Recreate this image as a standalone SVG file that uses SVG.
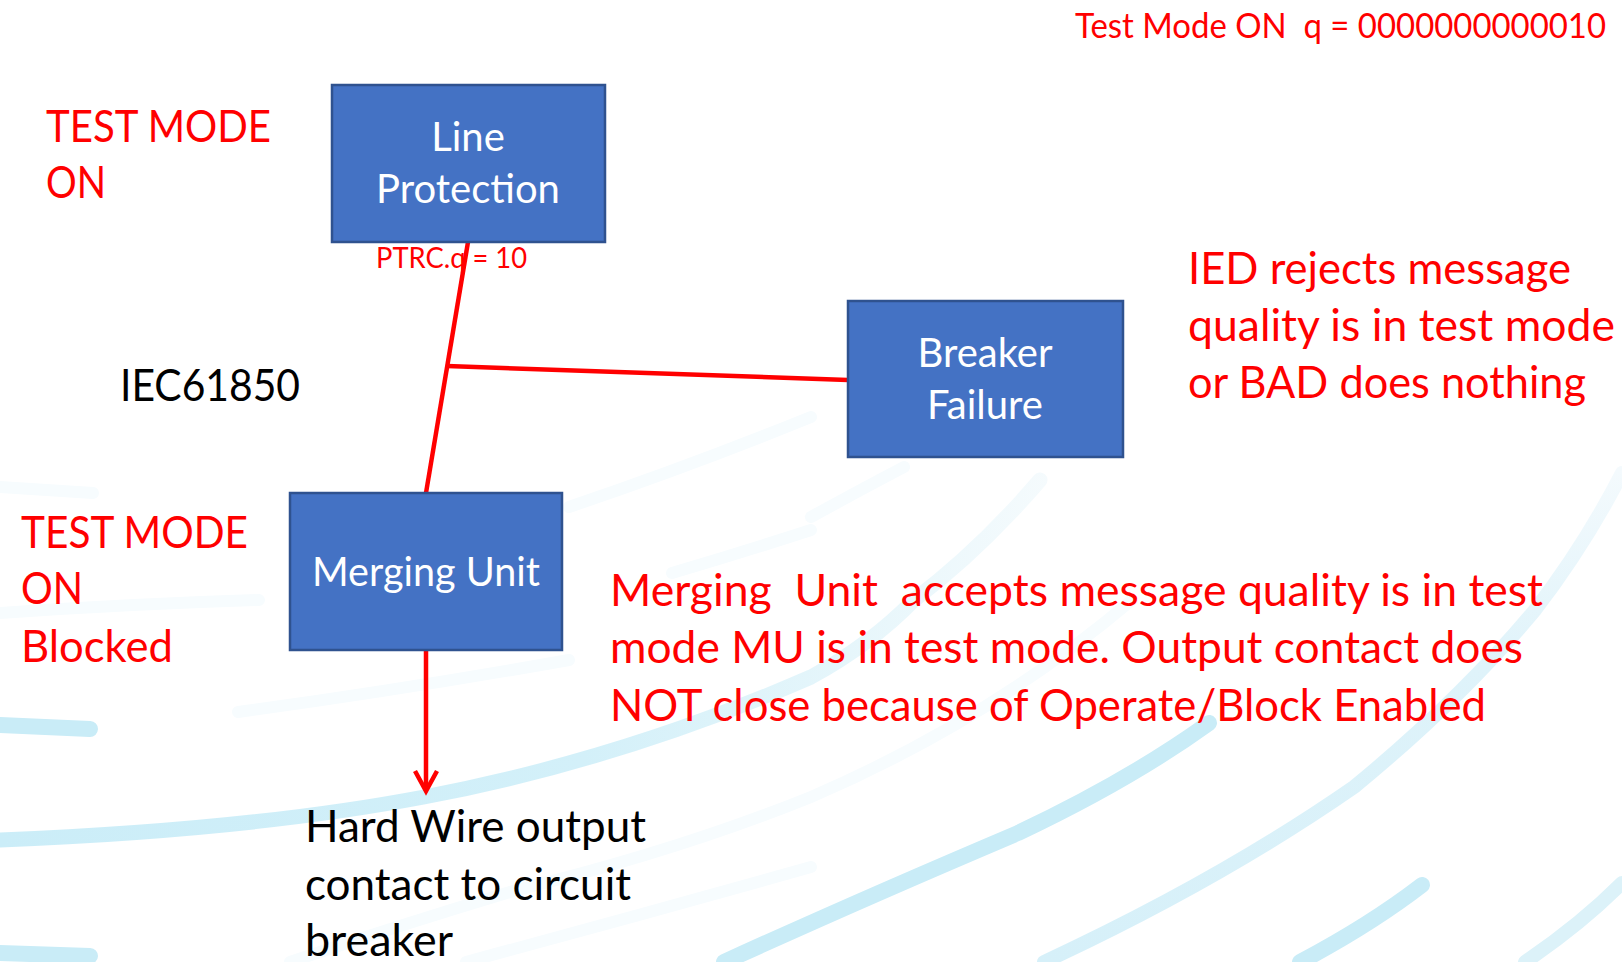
<svg xmlns="http://www.w3.org/2000/svg" width="1622" height="962" viewBox="0 0 1622 962">
  <defs>
    <linearGradient id="fadeRight" gradientUnits="userSpaceOnUse" x1="0" y1="0" x2="1060" y2="0">
      <stop offset="0" stop-color="#cbedf8"/>
      <stop offset="0.55" stop-color="#d3f0f9"/>
      <stop offset="0.8" stop-color="#e6f6fb"/>
      <stop offset="1" stop-color="#f6fbfd"/>
    </linearGradient>
    <linearGradient id="fadeUp" gradientUnits="userSpaceOnUse" x1="0" y1="962" x2="0" y2="470">
      <stop offset="0" stop-color="#d6f0f9"/>
      <stop offset="0.6" stop-color="#dff3fa"/>
      <stop offset="1" stop-color="#f4fafd"/>
    </linearGradient>
  </defs>
  <style>
    .bg { fill: none; stroke-linecap: round; }
    .swA { stroke: #c9ecf7; stroke-width: 16; }
    .swB { stroke: #dcf2f9; stroke-width: 14; }
    .swC { stroke: #f7fcfe; stroke-width: 12; }
    .box { fill: #4472c4; stroke: #2f528f; stroke-width: 2.5; }
    .lbl { font-family: Lato, "Open Sans", sans-serif; fill: #ffffff; font-size: 40px; text-anchor: middle; }
    .red { font-family: Lato, "Open Sans", sans-serif; fill: #ff0000; }
    .blk { font-family: Lato, "Open Sans", sans-serif; fill: #000000; }
    .link { fill: none; stroke: #ff0000; stroke-width: 4.5; }
  </style>

  <rect width="1622" height="962" fill="#ffffff"/>

  <!-- decorative background swooshes -->
  <g id="background">
    <path class="bg swC" d="M0 613 Q130 604 259 600"/>
    <path class="bg swC" d="M238 712 Q400 690 569 660"/>
    <path class="bg swC" d="M569 507 Q690 466 811 417"/>
    <path class="bg swC" d="M672 573 Q740 553 811 530"/>
    <path class="bg swC" d="M811 517 Q860 490 904 467"/>
    <path class="bg" stroke="url(#fadeRight)" stroke-width="15" d="M0 840 Q250 830 424 797 Q620 760 811 677 Q870 645 914 600 Q980 550 1040 480"/>
    <path class="bg swC" d="M290 962 Q400 925 517 890 Q680 850 811 797 Q990 720 1132 600"/>
    <path class="bg swC" d="M466 962 Q640 915 811 867"/>
    <path class="bg swA" d="M724 962 Q860 900 1018 833 Q1130 780 1209 723"/>
    <path class="bg" stroke="url(#fadeUp)" stroke-width="14" d="M1044 962 Q1220 880 1354 787 Q1460 700 1535 610 Q1585 545 1622 473"/>
    <path class="bg swA" d="M1300 962 Q1370 925 1422 885"/>
    <path class="bg swB" d="M1525 962 Q1580 925 1622 883"/>
    <path class="bg swA" d="M0 725 L90 729"/>
    <path class="bg swA" d="M0 953 L90 956"/>
    <path class="bg swC" d="M0 487 L93 493"/>
  </g>

  <!-- connectors -->
  <g id="connectors">
    <path class="link" d="M468 242 L426 493"/>
    <path class="link" d="M447 366 L848 380"/>
    <path class="link" d="M426 650 L426 789"/>
    <path class="link" d="M415 771 L426 791 L437 771" stroke-linejoin="miter"/>
  </g>

  <!-- nodes -->
  <g id="line-protection">
    <rect class="box" x="332" y="85" width="273" height="157"/>
    <text class="lbl" x="468" y="151">Line</text>
    <text class="lbl" x="468" y="203">Protection</text>
  </g>
  <g id="breaker-failure">
    <rect class="box" x="848" y="301" width="275" height="156"/>
    <text class="lbl" x="985" y="367">Breaker</text>
    <text class="lbl" x="985" y="419">Failure</text>
  </g>
  <g id="merging-unit">
    <rect class="box" x="290" y="493" width="272" height="157"/>
    <text class="lbl" x="426" y="586" textLength="228" lengthAdjust="spacingAndGlyphs">Merging Unit</text>
  </g>

  <!-- annotations -->
  <g id="annotations">
    <text class="red" x="1075" y="38" font-size="34" textLength="531" lengthAdjust="spacingAndGlyphs" xml:space="preserve">Test Mode ON  q = 0000000000010</text>
    <text class="red" x="46" y="142" font-size="45" textLength="225" lengthAdjust="spacingAndGlyphs">TEST MODE</text>
    <text class="red" x="46" y="198" font-size="45" textLength="60" lengthAdjust="spacingAndGlyphs">ON</text>
    <text class="red" x="376" y="268" font-size="29" textLength="151" lengthAdjust="spacingAndGlyphs">PTRC.q = 10</text>
    <text class="blk" x="120" y="401" font-size="45" textLength="180" lengthAdjust="spacingAndGlyphs">IEC61850</text>
    <text class="red" x="1188" y="284" font-size="44" textLength="383" lengthAdjust="spacingAndGlyphs">IED rejects message</text>
    <text class="red" x="1188" y="341" font-size="44" textLength="427" lengthAdjust="spacingAndGlyphs">quality is in test mode</text>
    <text class="red" x="1188" y="398" font-size="44" textLength="398" lengthAdjust="spacingAndGlyphs">or BAD does nothing</text>
    <text class="red" x="21" y="548" font-size="45" textLength="227" lengthAdjust="spacingAndGlyphs">TEST MODE</text>
    <text class="red" x="21" y="604" font-size="45" textLength="62" lengthAdjust="spacingAndGlyphs">ON</text>
    <text class="red" x="21" y="662" font-size="44" textLength="152" lengthAdjust="spacingAndGlyphs">Blocked</text>
    <text class="red" x="610" y="606" font-size="44" textLength="933" lengthAdjust="spacingAndGlyphs" xml:space="preserve">Merging  Unit  accepts message quality is in test</text>
    <text class="red" x="610" y="663" font-size="44" textLength="913" lengthAdjust="spacingAndGlyphs">mode MU is in test mode. Output contact does</text>
    <text class="red" x="610" y="721" font-size="44" textLength="876" lengthAdjust="spacingAndGlyphs">NOT close because of Operate/Block Enabled</text>
    <text class="blk" x="305" y="842" font-size="44" textLength="341" lengthAdjust="spacingAndGlyphs">Hard Wire output</text>
    <text class="blk" x="305" y="900" font-size="44" textLength="326" lengthAdjust="spacingAndGlyphs">contact to circuit</text>
    <text class="blk" x="305" y="956" font-size="44" textLength="148" lengthAdjust="spacingAndGlyphs">breaker</text>
  </g>
</svg>
